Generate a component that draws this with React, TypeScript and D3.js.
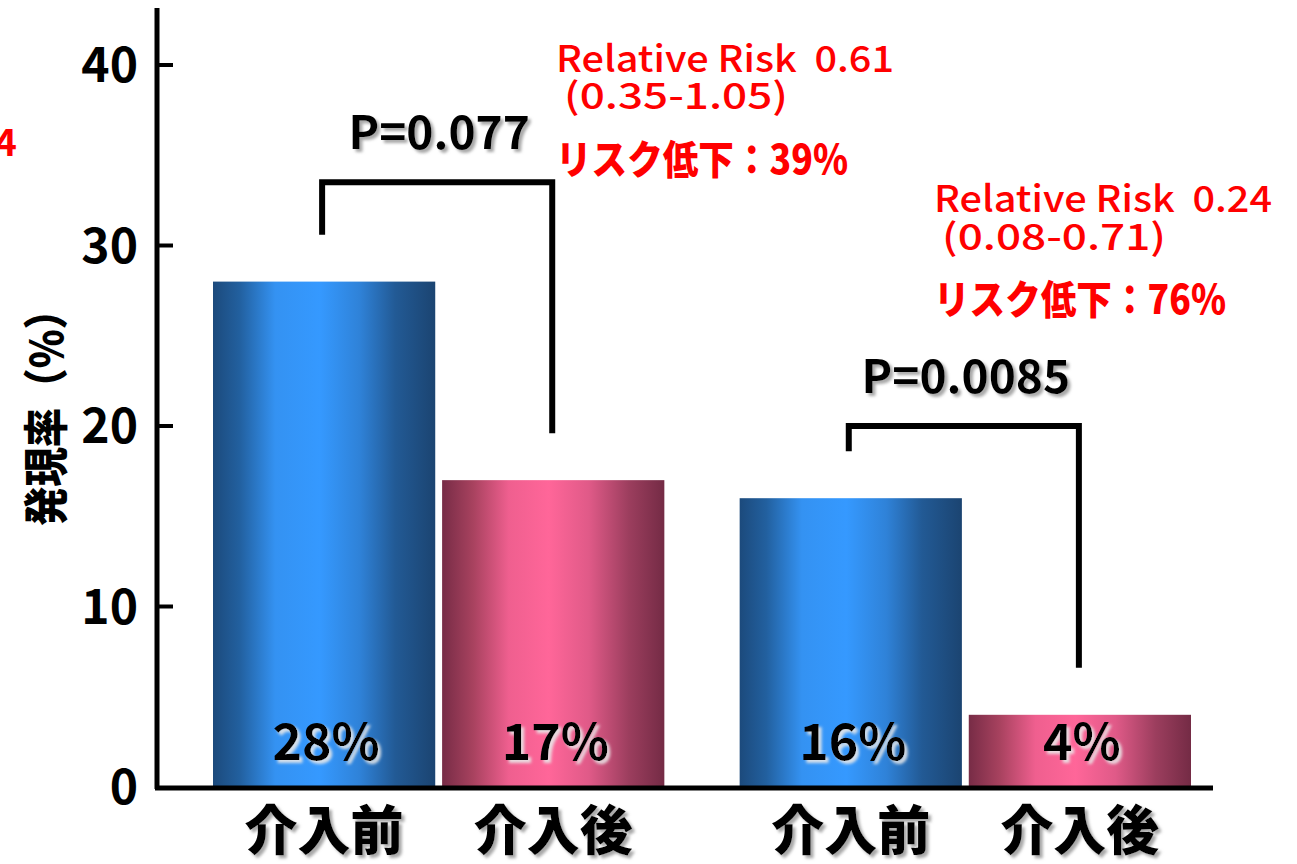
import React from "react";
import * as d3 from "d3";

// Incidence rates (%) before / after the intervention, two cohorts
const cohorts = ["A", "B"];
const phases = ["介入前", "介入後"];
const beforeRates = [28, 16];
const afterRates = [17, 4];
const yTicks = [0, 10, 20, 30, 40];
const pLabels = ["P=0.077", "P=0.0085"];
const bracketTops = [33.5, 20];
const rrTitles = ["Relative Risk  0.61", "Relative Risk  0.24"];
const rrIntervals = ["(0.35-1.05)", "(0.08-0.71)"];
const riskReductions = ["リスク低下：39%", "リスク低下：76%"];
const yTitle = "発現率（%）";

const W = 1297;
const H = 864;
const JP = "'Noto Sans CJK JP', 'Noto Sans', sans-serif";

export default function App() {
  const y = d3.scaleLinear().domain([0, 40]).range([787, 65]);
  const xGroup = d3.scaleBand<string>().domain(cohorts).range([213, 1191]).paddingInner(0.143);
  const xPhase = d3.scaleBand<string>().domain(phases).range([0, xGroup.bandwidth()]).paddingInner(0.03);

  const bars = cohorts.flatMap((c, i) => [
    { cohort: c, phase: phases[0], value: beforeRates[i] },
    { cohort: c, phase: phases[1], value: afterRates[i] },
  ]);
  const barX = (c: string, p: string) => (xGroup(c) as number) + (xPhase(p) as number);
  const barMid = (c: string, p: string) => barX(c, p) + xPhase.bandwidth() / 2;

  const axisX = 157;
  const baseY = y(0);

  // Annotation block anchors
  const rrBlocks = [
    { x: 556, lines: [72, 109, 174] },
    { x: 934, lines: [212, 250, 314] },
  ];

  return (
    <svg
      width={W}
      height={H}
      viewBox={`0 0 ${W} ${H}`}
      style={{ position: "absolute", left: 0, top: 0, background: "#fff" }}
    >
      <defs>
        <linearGradient id="gBlue" x1="0" x2="1" y1="0" y2="0">
          <stop offset="0%" stopColor="#1c4a7c" />
          <stop offset="12%" stopColor="#22609f" />
          <stop offset="28%" stopColor="#3492f2" />
          <stop offset="48%" stopColor="#3599ff" />
          <stop offset="66%" stopColor="#2f82d8" />
          <stop offset="82%" stopColor="#225a95" />
          <stop offset="100%" stopColor="#1b4471" />
        </linearGradient>
        <linearGradient id="gPink" x1="0" x2="1" y1="0" y2="0">
          <stop offset="0%" stopColor="#772c46" />
          <stop offset="14%" stopColor="#a8425f" />
          <stop offset="30%" stopColor="#ef5f8f" />
          <stop offset="48%" stopColor="#ff6699" />
          <stop offset="66%" stopColor="#e05a88" />
          <stop offset="84%" stopColor="#9c3e5e" />
          <stop offset="100%" stopColor="#742b45" />
        </linearGradient>
        <filter id="shadow" x="-10%" y="-20%" width="130%" height="150%">
          <feDropShadow dx="3" dy="3" stdDeviation="1.6" floodColor="#8a8a8a" floodOpacity="0.75" />
        </filter>
        <filter id="glow" x="-10%" y="-20%" width="130%" height="150%">
          <feDropShadow dx="3" dy="3" stdDeviation="1.4" floodColor="#e8e8e8" floodOpacity="0.9" />
        </filter>
      </defs>

      {/* clipped annotation spilling in from the left */}
      <text x={17} y={156} textAnchor="end" fill="#ff0000" fontFamily={JP} fontWeight={700} fontSize={38}>
        0.24
      </text>

      {/* bars */}
      {bars.map((b, i) => (
        <rect
          key={i}
          x={barX(b.cohort, b.phase)}
          y={y(b.value)}
          width={xPhase.bandwidth()}
          height={baseY - y(b.value)}
          fill={b.phase === phases[0] ? "url(#gBlue)" : "url(#gPink)"}
        />
      ))}

      {/* value labels inside bars */}
      {bars.map((b, i) => (
        <text
          key={i}
          x={barMid(b.cohort, b.phase) + 2}
          y={760}
          textAnchor="middle"
          fontFamily={JP}
          fontWeight={700}
          fontSize={50}
          fill="#000"
          filter="url(#glow)"
        >
          {`${b.value}%`}
        </text>
      ))}

      {/* y axis */}
      <line x1={axisX} x2={axisX} y1={8} y2={baseY + 2} stroke="#000" strokeWidth={5} />
      {yTicks.map((t) => (
        <g key={t}>
          {t > 0 && <line x1={axisX} x2={axisX + 16} y1={y(t)} y2={y(t)} stroke="#000" strokeWidth={4} />}
          <text
            x={138}
            y={y(t) + 17}
            textAnchor="end"
            fontFamily={JP}
            fontWeight={700}
            fontSize={48}
            fill="#000"
          >
            {t}
          </text>
        </g>
      ))}
      <text
        transform={`translate(63, 408) rotate(-90)`}
        textAnchor="middle"
        fontFamily={JP}
        fontWeight={900}
        fontSize={45}
        fill="#000"
        textLength={236}
        lengthAdjust="spacingAndGlyphs"
      >
        {yTitle}
      </text>

      {/* x axis */}
      <line x1={axisX - 2} x2={1213} y1={baseY + 1} y2={baseY + 1} stroke="#000" strokeWidth={5} />
      {bars.map((b, i) => (
        <text
          key={i}
          x={barMid(b.cohort, b.phase)}
          y={850}
          textAnchor="middle"
          fontFamily={JP}
          fontWeight={900}
          fontSize={53}
          fill="#000"
          filter="url(#shadow)"
        >
          {b.phase}
        </text>
      ))}

      {/* significance brackets */}
      {cohorts.map((c, i) => {
        const xl = barMid(c, phases[0]) - 2;
        const xr = barMid(c, phases[1]) - 1;
        const top = y(bracketTops[i]);
        const lEnd = y(beforeRates[i] + 2.6);
        const rEnd = y(afterRates[i] + 2.6);
        return (
          <g key={c}>
            <path
              d={`M${xl},${lEnd}V${top}H${xr}V${rEnd}`}
              fill="none"
              stroke="#000"
              strokeWidth={6}
              strokeLinejoin="miter"
            />
            <text
              x={(xl + xr) / 2 + 2}
              y={top - 33}
              textAnchor="middle"
              fontFamily={JP}
              fontWeight={700}
              fontSize={46}
              fill="#000"
              filter="url(#shadow)"
            >
              {pLabels[i]}
            </text>
          </g>
        );
      })}

      {/* relative risk annotations */}
      {rrBlocks.map((blk, i) => (
        <g key={i} fill="#ff0000" fontFamily={JP}>
          <text
            x={blk.x}
            y={blk.lines[0]}
            fontSize={36}
            fontWeight={500}
            textLength={338}
            lengthAdjust="spacingAndGlyphs"
            style={{ whiteSpace: "pre" }}
          >
            {rrTitles[i]}
          </text>
          <text x={blk.x + 8} y={blk.lines[1]} fontSize={36} fontWeight={500} textLength={224} lengthAdjust="spacingAndGlyphs">
            {rrIntervals[i]}
          </text>
          <text x={blk.x} y={blk.lines[2]} fontSize={40} fontWeight={900} textLength={292} lengthAdjust="spacingAndGlyphs">
            {riskReductions[i]}
          </text>
        </g>
      ))}
    </svg>
  );
}
